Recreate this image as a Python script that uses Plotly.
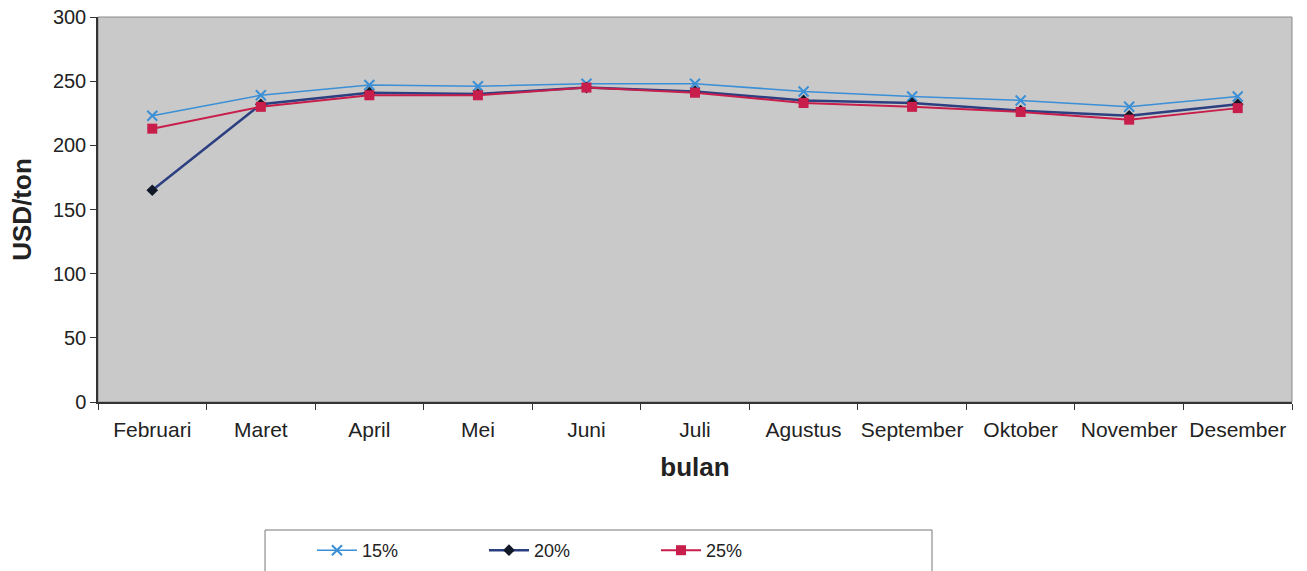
import plotly.graph_objects as go

# --- Datos ---
bulan = ["Februari", "Maret", "April", "Mei", "Juni", "Juli",
         "Agustus", "September", "Oktober", "November", "Desember"]

harga_15 = [223, 239, 247, 246, 248, 248, 242, 238, 235, 230, 238]
harga_20 = [165, 232, 241, 240, 245, 242, 235, 233, 227, 223, 232]
harga_25 = [213, 230, 239, 239, 245, 241, 233, 230, 226, 220, 229]

nama_seri = ["15%", "20%", "25%"]

font_utama = "Liberation Sans, Arial, sans-serif"

# --- Figura ---
fig = go.Figure()

fig.add_trace(go.Scatter(
    x=bulan, y=harga_15, name=nama_seri[0],
    mode="lines+markers",
    line=dict(color="#3a8fd6", width=1.5),
    marker=dict(symbol="x-thin", size=10, line=dict(color="#3a8fd6", width=2)),
))
fig.add_trace(go.Scatter(
    x=bulan, y=harga_20, name=nama_seri[1],
    mode="lines+markers",
    line=dict(color="#2c3f80", width=2.5),
    marker=dict(symbol="diamond", size=9, color="#111827"),
))
fig.add_trace(go.Scatter(
    x=bulan, y=harga_25, name=nama_seri[2],
    mode="lines+markers",
    line=dict(color="#c81e4c", width=2),
    marker=dict(symbol="square", size=10, color="#c81e4c"),
))

fig.update_layout(
    width=1307, height=571,
    margin=dict(l=98, r=15, t=17, b=169),
    plot_bgcolor="#c9c9c9",
    paper_bgcolor="white",
    font=dict(family=font_utama, size=17, color="#222"),
    showlegend=True,
    legend=dict(
        orientation="h",
        xref="container", yref="container",
        x=0.2387, xanchor="left",
        y=0.0683, yanchor="top",
        bgcolor="rgba(0,0,0,0)",
        itemwidth=40,
        entrywidth=117,
        font=dict(size=18),
    ),
    shapes=[
        dict(type="rect", xref="paper", yref="paper",
             x0=0, x1=1, y0=0, y1=1,
             line=dict(color="#8a8a8a", width=1), layer="below"),
        dict(type="rect", xref="paper", yref="paper",
             x0=0.1399, x1=0.6985, y0=-0.46, y1=-0.3325,
             line=dict(color="#777", width=1), fillcolor="white", layer="below"),
    ],
)

fig.update_xaxes(
    range=[-0.5, 10.5], automargin=False,
    showline=True, linecolor="#333", linewidth=1.5,
    ticks="outside", tickson="boundaries", ticklen=6, tickcolor="#333",
    ticklabelstandoff=8, tickangle=0,
    showgrid=False,
    title=dict(text="<b>bulan</b>", font=dict(size=26, family=font_utama, color="#222"), standoff=18),
    tickfont=dict(size=21),
)
fig.update_yaxes(
    range=[0, 300], dtick=50, automargin=False,
    showline=True, linecolor="#333", linewidth=1.5,
    ticks="outside", ticklen=6, tickcolor="#333",
    ticklabeloverflow="allow",
    showgrid=False, zeroline=False,
    title=dict(text="<b>USD/ton</b>", font=dict(size=26, family=font_utama, color="#222"), standoff=14),
    tickfont=dict(size=20),
)

# quitar el margen de 8px del body
fig.write_html("out.html", config={"displayModeBar": False},
               post_script="document.body.style.margin='0';")
